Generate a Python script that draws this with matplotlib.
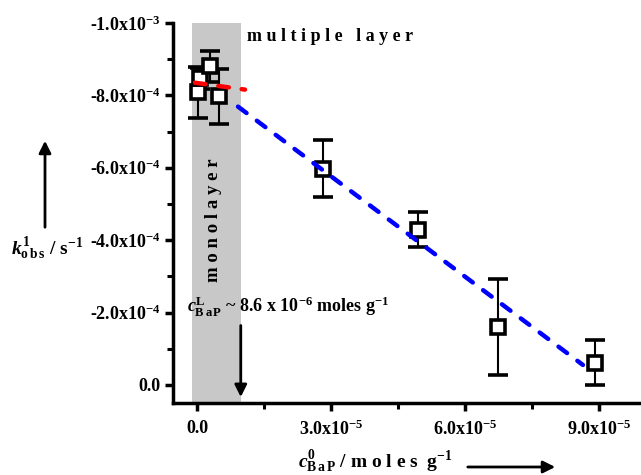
import numpy as np
import matplotlib
matplotlib.use('Agg')
import matplotlib.pyplot as plt
from matplotlib.ticker import FuncFormatter, MultipleLocator

plt.rcParams['font.family'] = ['Liberation Serif', 'DejaVu Serif']
plt.rcParams['font.weight'] = 'bold'
plt.rcParams['mathtext.fontset'] = 'custom'
plt.rcParams['mathtext.rm'] = 'Liberation Serif:bold'
plt.rcParams['mathtext.it'] = 'Liberation Serif:bold:italic'
plt.rcParams['mathtext.bf'] = 'Liberation Serif:bold'

# measured points (c0 in moles/g, k_obs in 1/s)
c0 = [2.0e-7, 7.0e-7, 2.9e-6, 4.9e-6, 2.83e-5, 4.95e-5, 6.74e-5, 8.91e-5]
kobs = [-8.08e-4, -8.47e-4, -8.80e-4, -7.97e-4, -5.98e-4, -4.29e-4, -1.60e-4, -0.61e-4]
kerr = [0.71e-4, 0.30e-4, 0.44e-4, 0.77e-4, 0.79e-4, 0.49e-4, 1.33e-4, 0.62e-4]

# linear fits, endpoints
red_x = [-0.45e-6, 1.075e-5]
red_y = [-8.35e-4, -8.16e-4]
blue_x = [0.918e-5, 8.64e-5]
blue_y = [-7.69e-4, -0.553e-4]

mono_lo, mono_hi = -1.1e-6, 0.985e-5
cL_arrow_x = 9.8e-6

def sci(v, pos):
    if abs(v) < 1e-12:
        return '0.0'
    e = int(np.floor(np.log10(abs(v)) + 1e-9))
    m = v / 10 ** e
    return f'{m:.1f}x10$^{{{e}}}$'

fig = plt.figure(figsize=(6.41, 4.75), dpi=100)
ax = fig.add_axes([173 / 641, 72 / 475, 468 / 641, 380 / 475])

ax.axvspan(mono_lo, mono_hi, color='#c8c8c8', lw=0, zorder=0)

ax.errorbar(c0, kobs, yerr=kerr, fmt='s', mfc='white', mec='black', mew=2.6, ms=9.5,
            ecolor='black', elinewidth=1.5, capsize=7, capthick=1.5, zorder=2)
ax.plot(red_x, red_y, color='#ff0000', lw=3.2, ls=(0, (2.4, 2.9)),
        dash_capstyle='round', zorder=3)
ax.plot(blue_x, blue_y, color='#0000ff', lw=3.2, ls=(0, (2.4, 2.9)),
        dash_capstyle='round', zorder=3)

ax.set_xlim(-5.37e-6, 9.94e-5)
ax.set_ylim(4.98e-5, -1.0e-3)

ax.xaxis.set_major_locator(MultipleLocator(3e-5))
ax.xaxis.set_minor_locator(MultipleLocator(1.5e-5))
ax.yaxis.set_major_locator(MultipleLocator(2e-4))
ax.yaxis.set_minor_locator(MultipleLocator(1e-4))
ax.xaxis.set_major_formatter(FuncFormatter(sci))
ax.yaxis.set_major_formatter(FuncFormatter(sci))

for s in ['top', 'right']:
    ax.spines[s].set_visible(False)
for s in ['left', 'bottom']:
    ax.spines[s].set_linewidth(2.5)
ax.tick_params(which='major', length=6, width=2.5, labelsize=13, pad=3)
ax.tick_params(which='minor', length=4, width=2.2)
ax.tick_params(axis='x', pad=6)

ax.text(1.12e-5, -9.63e-4, 'm u l t i p l e   l a y e r', fontsize=13,
        fontweight='bold', ha='left', va='center')
ax.text(3.6e-6, -4.54e-4, 'm o n o l a y e r', fontsize=13.5, fontweight='bold',
        rotation=90, ha='center', va='center')
ax.text(-2.2e-6, -1.99e-4,
        r'$c^{\mathrm{L}}_{\mathrm{B\,a\,P}}$ ~ 8.6 x 10$^{-6}$ moles g$^{-1}$',
        fontsize=13, ha='left', va='baseline')
ax.annotate('', xy=(cL_arrow_x, 4.1e-5), xytext=(cL_arrow_x, -1.72e-4),
            arrowprops=dict(arrowstyle='-|>', color='black', lw=2, mutation_scale=18))

fig.text(47 / 641, 1 - 249 / 475, r'$k^{1}_{\mathrm{o\,b\,s}}$ / s$^{-1}$',
         fontsize=14, ha='center', va='center')
fig.text(375 / 641, 1 - 462 / 475, r'$c^{0}_{\mathrm{B\,a\,P}}$ / m o l e s  g$^{-1}$',
         fontsize=14, ha='center', va='center')
fig.patches.append(matplotlib.patches.FancyArrowPatch(
    (45 / 641, 1 - 230 / 475), (45 / 641, 1 - 138 / 475), transform=fig.transFigure,
    arrowstyle='-|>', color='black', lw=2, mutation_scale=18))
fig.patches.append(matplotlib.patches.FancyArrowPatch(
    (465 / 641, 1 - 467 / 475), (558 / 641, 1 - 467 / 475), transform=fig.transFigure,
    arrowstyle='-|>', color='black', lw=2, mutation_scale=18))

fig.savefig('out.png', dpi=100)
